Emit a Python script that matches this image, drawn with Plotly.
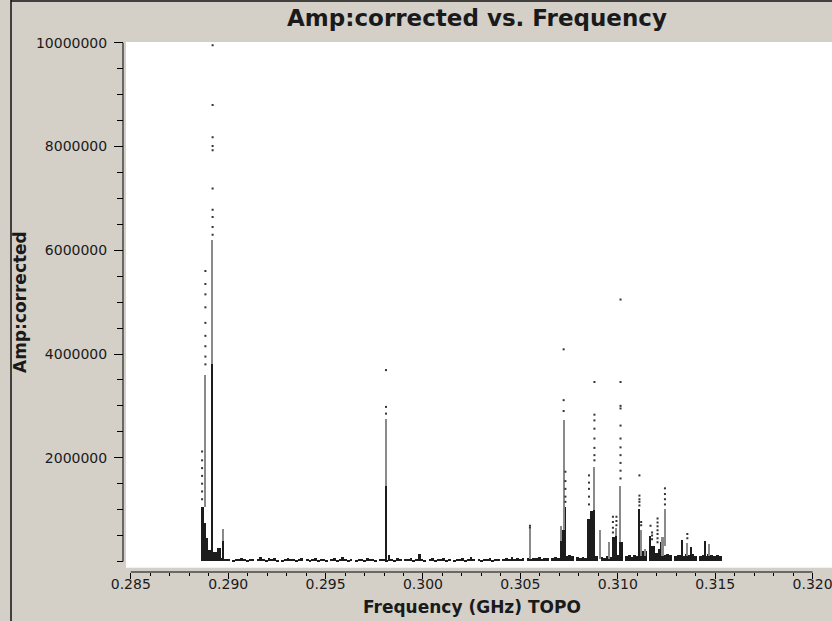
import plotly.graph_objects as go

# ---------------- data ----------------
# spectral-window extents (GHz) and low-level floor amplitudes inside each window
spw_lo = [0.28862, 0.29020, 0.29146, 0.29272, 0.29398, 0.29524, 0.29650, 0.29776,
          0.29903, 0.30029, 0.30155, 0.30281, 0.30407, 0.30533, 0.30659, 0.30786,
          0.30912, 0.31038, 0.31164, 0.31290, 0.31416]
spw_hi = [0.29007, 0.29133, 0.29259, 0.29385, 0.29512, 0.29638, 0.29764, 0.29890,
          0.30016, 0.30142, 0.30268, 0.30394, 0.30520, 0.30646, 0.30773, 0.30899,
          0.31025, 0.31151, 0.31277, 0.31404, 0.31533]
floor_amp = [
    [120000, 110000, 100000, 90000, 80000, 60000, 50000, 40000],
    [30000, 50000, 40000, 70000, 40000, 30000, 50000, 40000],
    [40000, 80000, 50000, 30000, 60000, 40000, 70000, 30000],
    [30000, 40000, 70000, 40000, 50000, 30000, 40000, 60000],
    [50000, 30000, 40000, 60000, 30000, 50000, 40000, 30000],
    [40000, 60000, 30000, 50000, 90000, 40000, 30000, 50000],
    [30000, 50000, 40000, 30000, 60000, 40000, 50000, 30000],
    [40000, 50000, 30000, 120000, 40000, 30000, 60000, 40000],
    [50000, 40000, 60000, 30000, 50000, 140000, 40000, 30000],
    [40000, 60000, 30000, 50000, 40000, 70000, 30000, 50000],
    [30000, 50000, 40000, 60000, 30000, 40000, 90000, 40000],
    [40000, 30000, 50000, 40000, 60000, 30000, 50000, 40000],
    [50000, 60000, 40000, 80000, 50000, 60000, 40000, 70000],
    [60000, 50000, 70000, 60000, 80000, 50000, 60000, 70000],
    [60000, 80000, 70000, 90000, 80000, 100000, 120000, 110000],
    [80000, 60000, 90000, 70000, 100000, 120000, 150000, 100000],
    [90000, 70000, 100000, 80000, 110000, 150000, 120000, 100000],
    [100000, 120000, 90000, 130000, 110000, 150000, 140000, 120000],
    [150000, 120000, 160000, 130000, 140000, 120000, 150000, 130000],
    [100000, 120000, 130000, 110000, 150000, 120000, 140000, 110000],
    [110000, 130000, 100000, 140000, 120000, 110000, 130000, 100000],
]

# solid dark columns: frequency span (GHz) and top amplitude
dark_lo = [0.28862, 0.28877, 0.28885, 0.28897, 0.28916, 0.28924, 0.28945, 0.28972,
           0.29808, 0.30702, 0.30718, 0.30726, 0.30846, 0.30856, 0.30877,
           0.30969, 0.30988, 0.31005, 0.31107, 0.31126, 0.31164, 0.31171,
           0.31205, 0.31219, 0.31226, 0.31327, 0.31372, 0.31446]
dark_hi = [0.28877, 0.28885, 0.28897, 0.28913, 0.28924, 0.28945, 0.28962, 0.28977,
           0.29813, 0.30718, 0.30726, 0.30736, 0.30856, 0.30877, 0.30883,
           0.30988, 0.30998, 0.31028, 0.31115, 0.31148, 0.31171, 0.31192,
           0.31219, 0.31226, 0.31238, 0.31333, 0.31376, 0.31451]
dark_top = [1050000, 750000, 450000, 220000, 3800000, 180000, 260000, 400000,
            1460000, 400000, 600000, 1050000, 820000, 980000, 1000000,
            470000, 500000, 370000, 1010000, 200000, 490000, 300000,
            240000, 370000, 430000, 420000, 270000, 400000]

# grey (dense dotted) columns: frequency span and amplitude range
grey_lo = [0.28878, 0.28916, 0.28972, 0.29808, 0.30546, 0.30706, 0.30719, 0.30877,
           0.30904, 0.30951, 0.30988, 0.31011, 0.31116, 0.31135, 0.31226, 0.31238,
           0.31355, 0.31466]
grey_hi = [0.28888, 0.28924, 0.28977, 0.29813, 0.30552, 0.30712, 0.30725, 0.30883,
           0.30911, 0.30959, 0.30998, 0.31017, 0.31124, 0.31143, 0.31235, 0.31246,
           0.31359, 0.31470]
grey_bottom = [1050000, 3800000, 400000, 1460000, 50000, 400000, 600000, 1000000,
               50000, 50000, 500000, 370000, 100000, 100000, 100000, 300000,
               100000, 100000]
grey_top = [3600000, 6200000, 620000, 2750000, 620000, 690000, 2720000, 1820000,
            600000, 380000, 650000, 1460000, 600000, 240000, 480000, 1010000,
            360000, 340000]

# isolated points: (frequency, amplitudes)
dot_groups = [
    (0.28920, [9950000, 8800000, 8180000, 8010000, 7930000, 7190000, 6780000, 6640000, 6450000, 6300000]),
    (0.28883, [5600000, 5350000, 5150000, 4900000, 4600000, 4350000, 4150000, 3950000, 3800000]),
    (0.28866, [1200000, 1350000, 1500000, 1650000, 1800000, 1950000, 2120000]),
    (0.29810, [2850000, 2980000, 3690000]),
    (0.30549, [650000, 690000]),
    (0.30722, [2900000, 3110000, 4090000]),
    (0.30731, [1150000, 1250000, 1400000, 1550000, 1730000]),
    (0.30880, [1950000, 2050000, 2190000, 2370000, 2560000, 2720000, 2830000, 3460000]),
    (0.30852, [1100000, 1250000, 1400000, 1520000, 1660000]),
    (0.30975, [560000, 650000, 760000, 860000]),
    (0.30993, [700000, 780000, 860000]),
    (0.31014, [1600000, 1750000, 1900000, 2050000, 2200000, 2370000, 2620000, 2950000, 3000000, 3460000, 5050000]),
    (0.31111, [1080000, 1150000, 1200000, 1270000, 1660000]),
    (0.31120, [700000, 760000]),
    (0.31168, [690000]),
    (0.31176, [430000, 500000, 560000]),
    (0.31204, [370000, 450000, 530000, 600000, 680000, 750000, 830000]),
    (0.31242, [1100000, 1200000, 1300000, 1410000]),
    (0.31357, [450000, 530000]),
]

x_ticks = [0.285, 0.290, 0.295, 0.300, 0.305, 0.310, 0.315, 0.320]
y_ticks = [2000000, 4000000, 6000000, 8000000, 10000000]

# ---------------- build traces ----------------
fx, fy, fw = [], [], []
for lo, hi, vals in zip(spw_lo, spw_hi, floor_amp):
    w = (hi - lo) / len(vals)
    for j, v in enumerate(vals):
        fx.append(lo + (j + 0.5) * w)
        fy.append(v)
        fw.append(w)

dk_x = [(a + b) / 2 for a, b in zip(dark_lo, dark_hi)]
dk_w = [b - a for a, b in zip(dark_lo, dark_hi)]
gr_x = [(a + b) / 2 for a, b in zip(grey_lo, grey_hi)]
gr_w = [b - a for a, b in zip(grey_lo, grey_hi)]
gr_h = [t - b for b, t in zip(grey_bottom, grey_top)]

dot_x, dot_y = [], []
for f, amps in dot_groups:
    for a in amps:
        dot_x.append(f)
        dot_y.append(a)

DARK = "#1c1c1c"
GREY = "#8a8a8a"

fig = go.Figure()
fig.add_trace(go.Bar(x=fx, y=fy, width=fw, base=[0] * len(fy),
                     marker=dict(color=DARK, line=dict(width=0)), hoverinfo="skip"))
fig.add_trace(go.Bar(x=dk_x, y=dark_top, width=dk_w, base=[0] * len(dk_x),
                     marker=dict(color=DARK, line=dict(width=0)), hoverinfo="skip"))
fig.add_trace(go.Bar(x=gr_x, y=gr_h, width=gr_w, base=grey_bottom,
                     marker=dict(color=GREY, line=dict(width=0)), hoverinfo="skip"))
fig.add_trace(go.Scatter(x=dot_x, y=dot_y, mode="markers",
                         marker=dict(size=2, symbol="square", color="#333333", line=dict(width=0)),
                         hoverinfo="skip"))

# ---------------- layout ----------------
W, H = 832, 621
L, R, T, B = 123, 0, 42, 49
PW, PH = W - L - R, H - T - B


def pxx(px):
    return (px - L) / PW


def pxy(py):
    return (H - B - py) / PH


BG = "#d4d0c8"
TXT = "#1a1a1a"
FONT = "DejaVu Sans"

fig.update_layout(
    width=W, height=H,
    margin=dict(l=L, r=R, t=T, b=B, pad=0),
    paper_bgcolor=BG, plot_bgcolor="white",
    showlegend=False, barmode="overlay", bargap=0,
    font=dict(family=FONT, color=TXT, size=14),
    title=dict(text="<b>Amp:corrected vs. Frequency</b>", x=477 / W, xanchor="center",
               y=1 - 18 / H, yanchor="middle", xref="container", yref="container",
               font=dict(family=FONT, size=23, color=TXT)),
    xaxis=dict(domain=[pxx(126), 1], range=[0.284754, 0.320996], anchor="free", position=0,
               showgrid=False, zeroline=False, showline=False,
               tickmode="array", tickvals=x_ticks, ticktext=[f"{v:.3f}" for v in x_ticks],
               ticks="outside", ticklen=6, tickwidth=1, tickcolor="black",
               ticklabelstandoff=-7, ticklabeloverflow="allow",
               tickfont=dict(family=FONT, size=14, color=TXT),
               minor=dict(tickmode="linear", tick0=0.285, dtick=0.001, ticks="outside",
                          ticklen=3, tickwidth=1, tickcolor="black", showgrid=False)),
    yaxis=dict(domain=[pxy(567.7), 1], range=[-120000, 10015000], anchor="free", position=0,
               showgrid=False, zeroline=False, showline=False,
               tickmode="array", tickvals=y_ticks, ticktext=[str(v) for v in y_ticks],
               ticks="outside", ticklen=9, tickwidth=1, tickcolor="black",
               ticklabelstandoff=4, ticklabeloverflow="allow",
               tickfont=dict(family=FONT, size=14, color=TXT),
               minor=dict(tickmode="linear", tick0=0, dtick=500000, ticks="outside",
                          ticklen=6, tickwidth=1, tickcolor="black", showgrid=False)),
    shapes=[
        dict(type="line", xref="x", yref="paper", x0=x_ticks[0], x1=x_ticks[-1], y0=0, y1=0,
             line=dict(color="black", width=1)),
        dict(type="line", xref="paper", yref="y", x0=0, x1=0, y0=0, y1=y_ticks[-1],
             line=dict(color="black", width=1)),
        dict(type="line", xref="paper", yref="paper", x0=pxx(11), x1=pxx(11), y0=pxy(0), y1=pxy(H),
             line=dict(color="#111111", width=1.5)),
        dict(type="line", xref="paper", yref="paper", x0=pxx(11), x1=pxx(W), y0=pxy(1), y1=pxy(1),
             line=dict(color="#111111", width=1.5)),
    ],
    annotations=[
        dict(text="<b>Frequency (GHz) TOPO</b>", xref="paper", yref="paper",
             x=pxx(472), y=pxy(607), xanchor="center", yanchor="middle", showarrow=False,
             font=dict(family=FONT, size=17, color=TXT)),
        dict(text="<b>Amp:corrected</b>", xref="paper", yref="paper", textangle=-90,
             x=pxx(20), y=pxy(302), xanchor="center", yanchor="middle", showarrow=False,
             font=dict(family=FONT, size=17, color=TXT)),
    ],
)

fig.write_html("out.html")
